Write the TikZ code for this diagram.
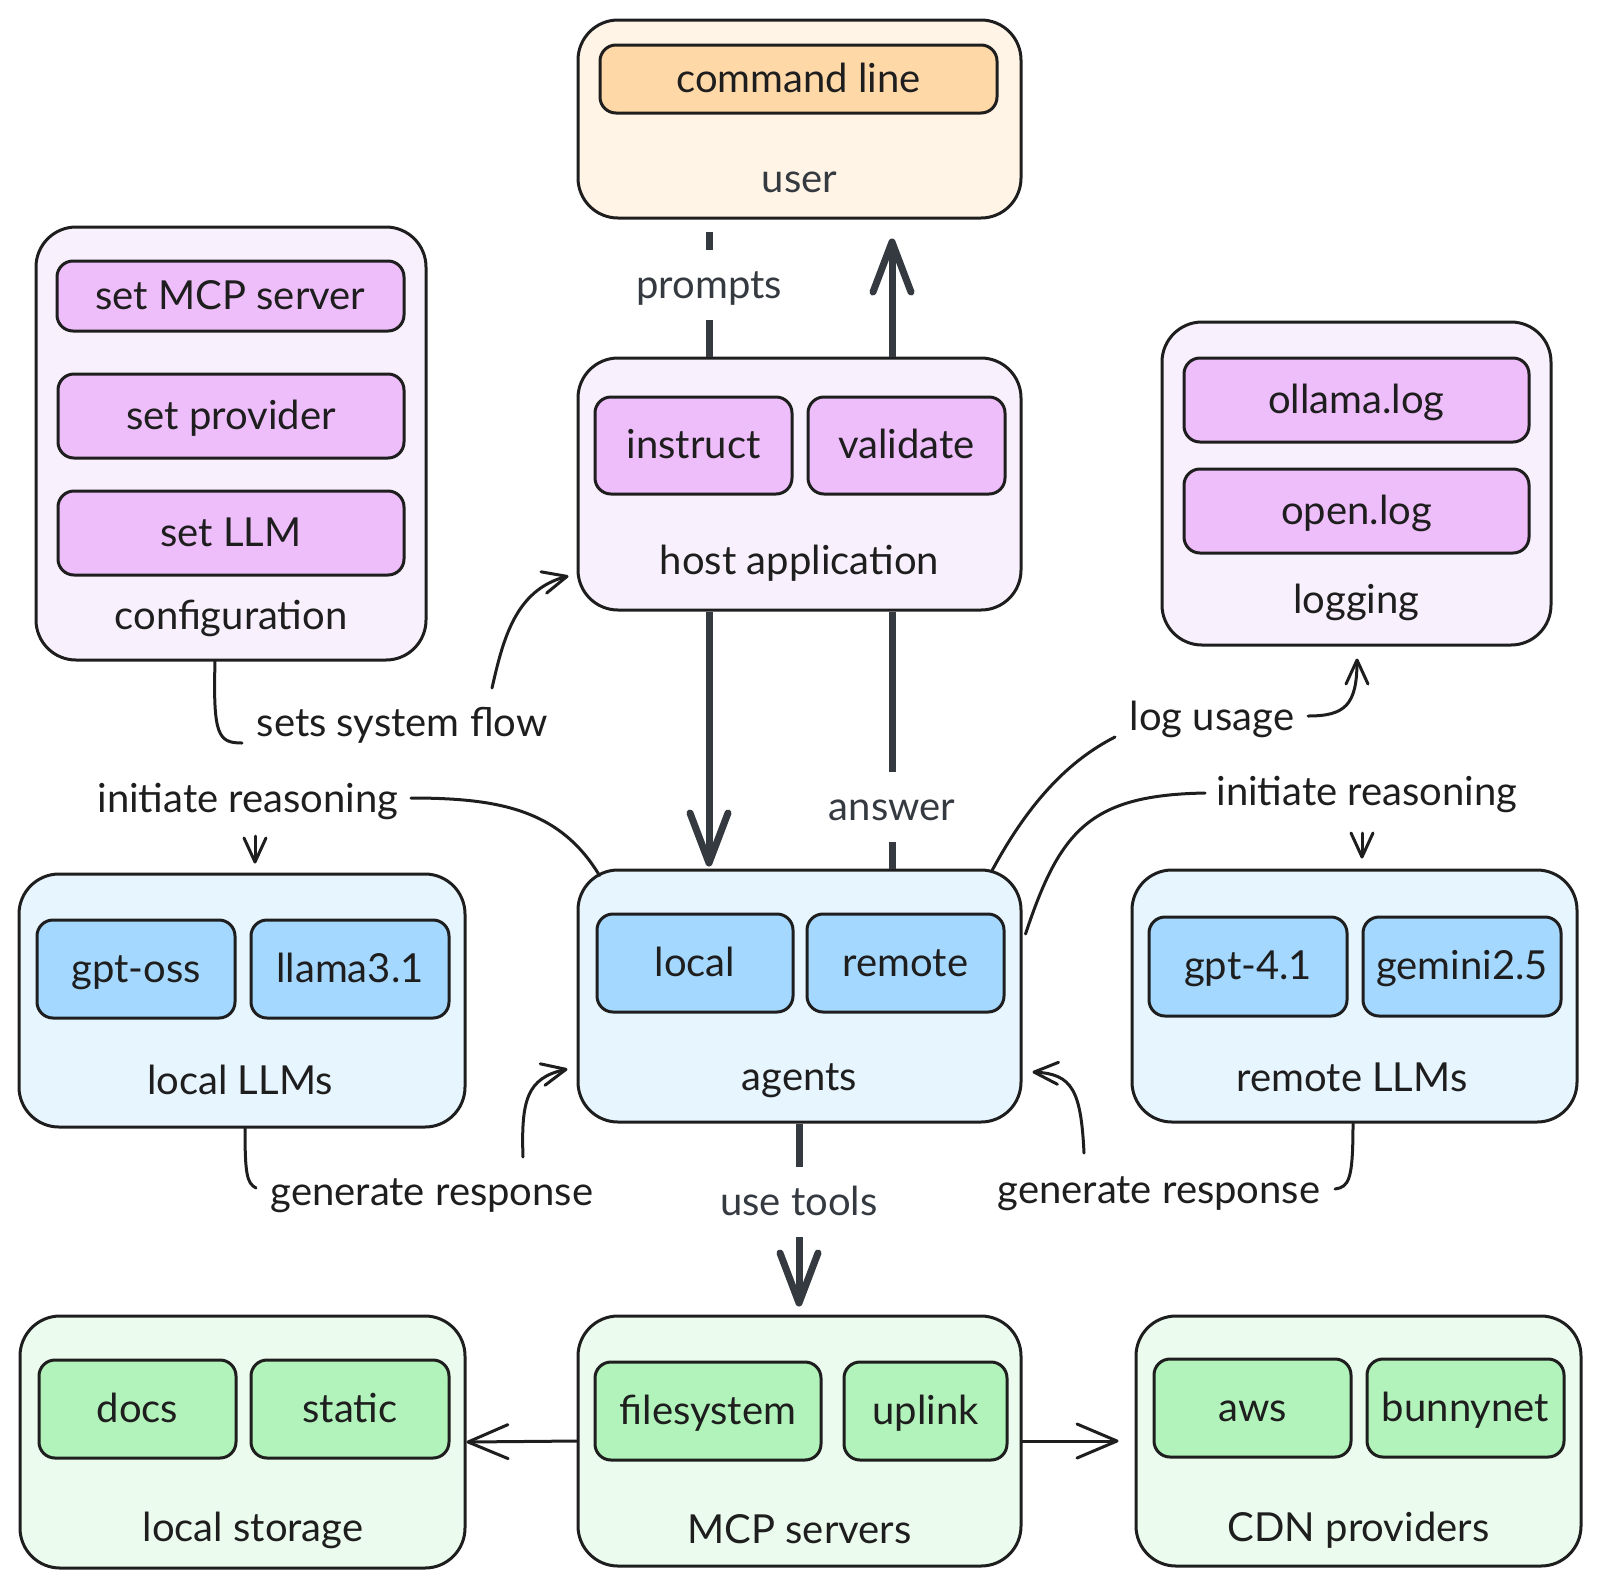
\documentclass[tikz,border=0pt]{standalone}
\usepackage{fontspec}
\setmainfont{Lato}
\usetikzlibrary{arrows.meta,calc}
\definecolor{ink}{HTML}{1E1E1E}
\definecolor{grayink}{HTML}{343A40}
\definecolor{violetA}{HTML}{F8F0FC}
\definecolor{violetB}{HTML}{EEBEFA}
\definecolor{blueA}{HTML}{E7F5FF}
\definecolor{blueB}{HTML}{A5D8FF}
\definecolor{greenA}{HTML}{EBFBEE}
\definecolor{greenB}{HTML}{B2F2BB}
\definecolor{orangeA}{HTML}{FFF4E6}
\definecolor{orangeB}{HTML}{FFD8A8}
\newcommand{\fsz}{\fontsize{40}{48}\selectfont}
\begin{document}
\begin{tikzpicture}[x=1pt,y=-1pt,
  box/.style={draw=ink, line width=3pt, rounded corners=40pt, inner sep=0pt},
  ibox/.style={draw=ink, line width=3pt, rounded corners=16pt, inner sep=0pt, font=\fsz, text=ink, text height=30pt, text depth=4pt},
  blbl/.style={anchor=base, inner sep=0pt, font=\fsz, text=ink},
  elbl/.style={anchor=base, inner xsep=4pt, inner ysep=18pt, font=\fsz, text=grayink, text height=30pt, text depth=4pt},
  clbl/.style={anchor=base, inner sep=0pt, font=\fsz, text=ink},
  thk/.style={draw=grayink, line width=7pt},
  thn/.style={draw=ink, line width=3pt, line cap=round},
  bigtip/.style={-{Straight Barb[length=50pt,width=38pt,round]}},
  midtip/.style={-{Straight Barb[length=40pt,width=34pt,round]}},
  tip/.style={-{Straight Barb[length=24pt,width=22pt,round]}},
]
\useasboundingbox (0,0) rectangle (1600,1588);

% ---------- user ----------
\node[box, fill=orangeA, minimum width=443pt, minimum height=198pt] (user) at (799.5,119) {};
\node[ibox, fill=orangeB, minimum width=397pt, minimum height=68pt] (cmd) at (798.5,79) {command line};
\node[blbl, text=grayink] (userl) at (799.5,192) {user};

% ---------- configuration ----------
\node[box, fill=violetA, minimum width=390pt, minimum height=433pt] (config) at (231,443.5) {};
\node[ibox, fill=violetB, minimum width=347pt, minimum height=70pt] (smcp) at (230.5,296) {set MCP server};
\node[ibox, fill=violetB, minimum width=346pt, minimum height=84pt] (sprov) at (231,416) {set provider};
\node[ibox, fill=violetB, minimum width=346pt, minimum height=84pt] (sllm) at (231,533) {set LLM};
\node[blbl] (configl) at (231,629) {configuration};

% ---------- host application ----------
\node[box, fill=violetA, minimum width=443pt, minimum height=252pt] (host) at (799.5,484) {};
\node[ibox, fill=violetB, minimum width=197pt, minimum height=97pt] (instr) at (693.5,445.5) {instruct};
\node[ibox, fill=violetB, minimum width=197pt, minimum height=97pt] (valid) at (906.5,445.5) {validate};
\node[blbl] (hostl) at (799.5,574) {host application};

% ---------- logging ----------
\node[box, fill=violetA, minimum width=389pt, minimum height=323pt] (logging) at (1356.5,483.5) {};
\node[ibox, fill=violetB, minimum width=345pt, minimum height=84pt] (ollama) at (1356.5,400) {ollama.log};
\node[ibox, fill=violetB, minimum width=345pt, minimum height=84pt] (openlog) at (1356.5,511) {open.log};
\node[blbl] (loggingl) at (1356.5,613) {logging};

% ---------- agents ----------
\node[box, fill=blueA, minimum width=443pt, minimum height=252pt] (agents) at (799.5,996) {};
\node[ibox, fill=blueB, minimum width=196pt, minimum height=98pt] (alocal) at (695,963) {local};
\node[ibox, fill=blueB, minimum width=197pt, minimum height=98pt] (aremote) at (905.5,963) {remote};
\node[blbl] (agentsl) at (799.5,1090) {agents};

% ---------- local LLMs ----------
\node[box, fill=blueA, minimum width=446pt, minimum height=253pt] (lllm) at (242,1000.5) {};
\node[ibox, fill=blueB, minimum width=198pt, minimum height=98pt] (gptoss) at (136,969) {gpt-oss};
\node[ibox, fill=blueB, minimum width=198pt, minimum height=98pt] (llama) at (350,969) {llama3.1};
\node[blbl] (lllml) at (240,1094) {local LLMs};

% ---------- remote LLMs ----------
\node[box, fill=blueA, minimum width=445pt, minimum height=252pt] (rllm) at (1354.5,996) {};
\node[ibox, fill=blueB, minimum width=198pt, minimum height=99pt] (gpt) at (1248,966.5) {gpt-4.1};
\node[ibox, fill=blueB, minimum width=198pt, minimum height=99pt] (gemini) at (1462,966.5) {gemini2.5};
\node[blbl] (rllml) at (1352,1091) {remote LLMs};

% ---------- local storage ----------
\node[box, fill=greenA, minimum width=445pt, minimum height=252pt] (lstore) at (242.5,1442) {};
\node[ibox, fill=greenB, minimum width=197pt, minimum height=98pt] (docs) at (137.5,1409) {docs};
\node[ibox, fill=greenB, minimum width=198pt, minimum height=98pt] (static) at (350,1409) {static};
\node[blbl] (lstorel) at (253,1541) {local storage};

% ---------- MCP servers ----------
\node[box, fill=greenA, minimum width=443pt, minimum height=250pt] (mcp) at (799.5,1441) {};
\node[ibox, fill=greenB, minimum width=226pt, minimum height=98pt] (fs) at (708,1411) {filesystem};
\node[ibox, fill=greenB, minimum width=163pt, minimum height=98pt] (uplink) at (925.5,1411) {uplink};
\node[blbl] (mcpl) at (799.5,1543) {MCP servers};

% ---------- CDN providers ----------
\node[box, fill=greenA, minimum width=445pt, minimum height=250pt] (cdn) at (1358.5,1441) {};
\node[ibox, fill=greenB, minimum width=197pt, minimum height=98pt] (aws) at (1252.5,1408) {aws};
\node[ibox, fill=greenB, minimum width=197pt, minimum height=98pt] (bunny) at (1465.5,1408) {bunnynet};
\node[blbl] (cdnl) at (1358.5,1541) {CDN providers};

% ---------- thick connectors ----------
\coordinate (px) at (709,0);
\coordinate (ax) at (892,0);
\coordinate (ux) at (799,0);
\node[elbl] (prompts) at (709,298) {prompts};
\draw[thk] ($(px |- user.south)+(0,12)$) -- (prompts.north);
\draw[thk] (prompts.south) -- (px |- host.north);
\draw[thk,bigtip] (ax |- host.north) -- ($(ax |- user.south)+(0,19)$);
\draw[thk,bigtip] (px |- host.south) -- ($(px |- agents.north)+(0,-2)$);
\node[elbl] (answer) at (892,820) {answer};
\draw[thk] (ax |- agents.north) -- (answer.south);
\draw[thk] (answer.north) -- (ax |- host.south);
\node[elbl] (usetools) at (799,1215) {use tools};
\draw[thk] (ux |- agents.south) -- (usetools.north);
\draw[thk,bigtip] (usetools.south) -- ($(ux |- mcp.north)+(0,-8)$);

% ---------- MCP side arrows ----------
\draw[thn,midtip] (mcp.west) -- (lstore.east);
\draw[thn,midtip] (mcp.east) -- ($(cdn.west)+(-16,0)$);

% ---------- labelled curved connectors ----------
\node[clbl] (lsys) at (402,736) {sets system flow};
\node[clbl] (linl) at (248,812) {initiate reasoning};
\node[clbl] (llog) at (1212,730) {log usage};
\node[clbl] (linr) at (1367,805) {initiate reasoning};
\node[clbl] (lgl) at (432,1205) {generate response};
\node[clbl] (lgr) at (1159,1203) {generate response};

% sets system flow
\coordinate (s1) at (242,743);
\coordinate (s2) at (492,688);
\draw[thn] ($(config.south)+(-16,0)$) .. controls (213,735) and (218,743) .. (s1);
\draw[thn,tip] (s2) .. controls (503,640) and (515,590) .. ($(host.west)+(-8,92)$);

% initiate reasoning (local)
\coordinate (i1) at (411,798);
\coordinate (i2) at (255,836);
\draw[thn] ($(agents.north west)+(23,7)$) .. controls (560,810) and (500,798) .. (i1);
\draw[thn,tip] (i2) -- ($(lllm.north)+(13,-9)$);

% log usage
\coordinate (l1) at (1115,737);
\coordinate (l2) at (1308,716);
\draw[thn] ($(agents.north east)+(-31,3)$) .. controls (1030,800) and (1070,760) .. (l1);
\draw[thn,tip] (l2) .. controls (1345,716) and (1357,705) .. ($(logging.south)+(0.5,12)$);

% initiate reasoning (remote)
\coordinate (r1) at (1205,793);
\coordinate (r2) at (1362,833);
\draw[thn] ($(agents.east)+(3,-62)$) .. controls (1060,830) and (1090,795) .. (r1);
\draw[thn,tip] (r2) -- ($(rllm.north)+(7.5,-10)$);

% generate response (local)
\coordinate (g1) at (256,1188);
\coordinate (g2) at (523,1157);
\draw[thn] ($(lllm.south)+(3,0)$) .. controls (245,1175) and (247,1183) .. (g1);
\draw[thn,tip] (g2) .. controls (521,1100) and (527,1078) .. ($(agents.west)+(-9,73)$);

% generate response (remote)
\coordinate (g3) at (1335,1189);
\coordinate (g4) at (1084,1153);
\draw[thn] ($(rllm.south)+(-1.5,0)$) .. controls (1353,1180) and (1349,1187) .. (g3);
\draw[thn,tip] (g4) .. controls (1081,1090) and (1072,1074) .. ($(agents.east)+(10,76)$);
\end{tikzpicture}
\end{document}
